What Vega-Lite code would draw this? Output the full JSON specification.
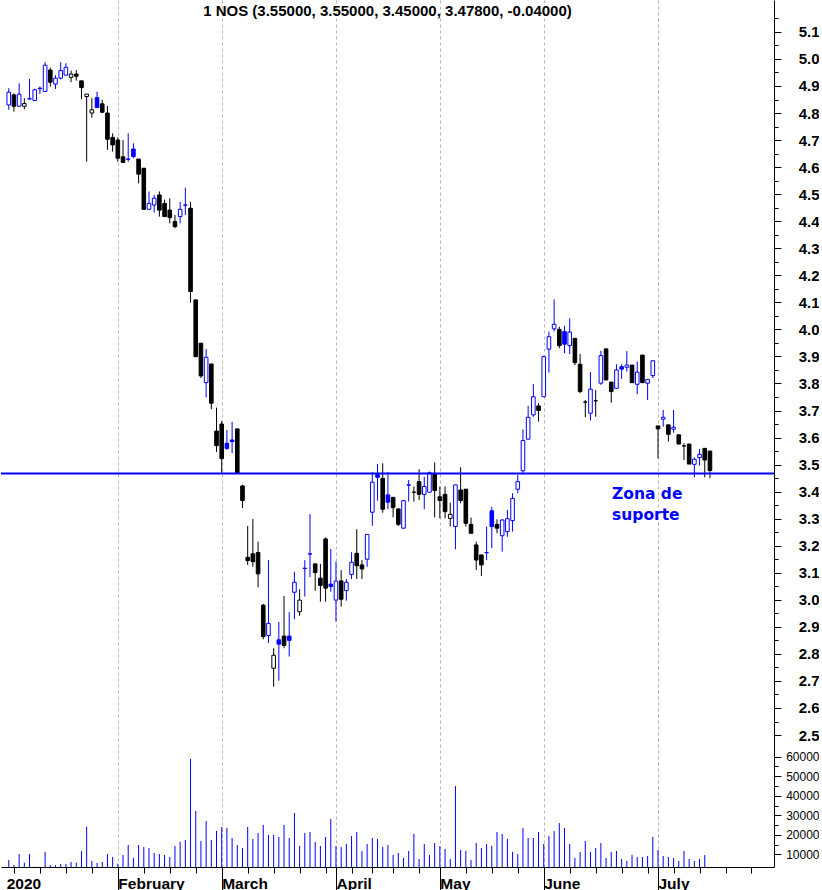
{
  "$schema": "https://vega.github.io/schema/vega-lite/v6.json",
  "description": "NOS daily candlesticks Jan-Jul 2020 with volume and support zone",
  "width": 773,
  "height": 867,
  "padding": 0,
  "background": "white",
  "config": {"view": {"stroke": null}},
  "title": {
    "text": "1 NOS (3.55000, 3.55000, 3.45000, 3.47800, -0.04000)",
    "font": "Liberation Sans",
    "fontSize": 15,
    "fontWeight": "bold",
    "color": "#000000",
    "anchor": "middle",
    "frame": "group",
    "baseline": "top",
    "offset": -19
  },
  "data": {
    "values": [
      {"t":0,"o":4.83,"h":4.892,"l":4.812,"c":4.877,"v":7100},
      {"t":1,"o":4.867,"h":4.873,"l":4.805,"c":4.825,"v":4500},
      {"t":2,"o":4.825,"h":4.91,"l":4.824,"c":4.87,"v":10160},
      {"t":3,"o":4.825,"h":4.855,"l":4.814,"c":4.835,"v":5700},
      {"t":4,"o":4.852,"h":4.926,"l":4.85,"c":4.853,"v":10160},
      {"t":5,"o":4.846,"h":4.89,"l":4.846,"c":4.886,"v":3600},
      {"t":6,"o":4.89,"h":4.898,"l":4.87,"c":4.892,"v":3600},
      {"t":7,"o":4.88,"h":4.988,"l":4.879,"c":4.977,"v":11200},
      {"t":8,"o":4.959,"h":4.968,"l":4.898,"c":4.914,"v":4500},
      {"t":9,"o":4.907,"h":4.94,"l":4.889,"c":4.929,"v":4500},
      {"t":10,"o":4.929,"h":4.988,"l":4.924,"c":4.957,"v":5000},
      {"t":11,"o":4.94,"h":4.984,"l":4.94,"c":4.969,"v":5000},
      {"t":12,"o":4.932,"h":4.957,"l":4.914,"c":4.944,"v":6060},
      {"t":13,"o":4.944,"h":4.959,"l":4.92,"c":4.936,"v":5700},
      {"t":14,"o":4.919,"h":4.919,"l":4.851,"c":4.894,"v":11700},
      {"t":15,"o":4.861,"h":4.87,"l":4.62,"c":4.87,"v":24200},
      {"t":16,"o":4.8,"h":4.855,"l":4.783,"c":4.812,"v":6600},
      {"t":17,"o":4.857,"h":4.879,"l":4.82,"c":4.82,"v":5550},
      {"t":18,"o":4.834,"h":4.849,"l":4.8,"c":4.803,"v":6060},
      {"t":19,"o":4.8,"h":4.826,"l":4.664,"c":4.703,"v":10160},
      {"t":20,"o":4.71,"h":4.725,"l":4.657,"c":4.682,"v":8600},
      {"t":21,"o":4.7,"h":4.71,"l":4.62,"c":4.633,"v":5200},
      {"t":22,"o":4.638,"h":4.7,"l":4.617,"c":4.617,"v":9650},
      {"t":23,"o":4.629,"h":4.725,"l":4.62,"c":4.63,"v":14770},
      {"t":24,"o":4.667,"h":4.688,"l":4.633,"c":4.639,"v":8100},
      {"t":25,"o":4.63,"h":4.63,"l":4.54,"c":4.574,"v":14770},
      {"t":26,"o":4.596,"h":4.596,"l":4.444,"c":4.444,"v":13750},
      {"t":27,"o":4.444,"h":4.51,"l":4.444,"c":4.466,"v":13240},
      {"t":28,"o":4.46,"h":4.497,"l":4.432,"c":4.485,"v":10670},
      {"t":29,"o":4.497,"h":4.51,"l":4.417,"c":4.441,"v":10160},
      {"t":30,"o":4.466,"h":4.48,"l":4.417,"c":4.417,"v":9650},
      {"t":31,"o":4.441,"h":4.485,"l":4.392,"c":4.413,"v":8600},
      {"t":32,"o":4.399,"h":4.423,"l":4.374,"c":4.38,"v":14260},
      {"t":33,"o":4.417,"h":4.472,"l":4.392,"c":4.444,"v":16300},
      {"t":34,"o":4.459,"h":4.524,"l":4.423,"c":4.46,"v":17340},
      {"t":35,"o":4.448,"h":4.472,"l":4.099,"c":4.14,"v":58840},
      {"t":36,"o":4.109,"h":4.11,"l":3.899,"c":3.899,"v":32200},
      {"t":37,"o":3.949,"h":3.949,"l":3.82,"c":3.828,"v":16820},
      {"t":38,"o":3.803,"h":3.927,"l":3.748,"c":3.897,"v":27070},
      {"t":39,"o":3.872,"h":3.872,"l":3.705,"c":3.727,"v":17340},
      {"t":40,"o":3.624,"h":3.711,"l":3.547,"c":3.57,"v":21950},
      {"t":41,"o":3.65,"h":3.661,"l":3.468,"c":3.522,"v":24000},
      {"t":42,"o":3.579,"h":3.628,"l":3.554,"c":3.56,"v":23480},
      {"t":43,"o":3.591,"h":3.658,"l":3.542,"c":3.585,"v":18360},
      {"t":44,"o":3.632,"h":3.632,"l":3.468,"c":3.468,"v":14770},
      {"t":45,"o":3.421,"h":3.425,"l":3.339,"c":3.367,"v":13240},
      {"t":46,"o":3.157,"h":3.273,"l":3.129,"c":3.145,"v":24000},
      {"t":47,"o":3.17,"h":3.299,"l":3.122,"c":3.141,"v":17850},
      {"t":48,"o":3.175,"h":3.215,"l":3.046,"c":3.096,"v":20920},
      {"t":49,"o":2.98,"h":2.985,"l":2.854,"c":2.864,"v":25020},
      {"t":50,"o":2.868,"h":3.147,"l":2.84,"c":2.913,"v":19900},
      {"t":51,"o":2.747,"h":2.821,"l":2.679,"c":2.795,"v":19900},
      {"t":52,"o":2.852,"h":2.919,"l":2.701,"c":2.836,"v":18870},
      {"t":53,"o":2.866,"h":3.014,"l":2.821,"c":2.831,"v":25020},
      {"t":54,"o":2.866,"h":2.954,"l":2.79,"c":2.85,"v":18360},
      {"t":55,"o":3.028,"h":3.104,"l":2.928,"c":3.065,"v":31170},
      {"t":56,"o":2.956,"h":3.039,"l":2.941,"c":2.999,"v":14260},
      {"t":57,"o":3.116,"h":3.147,"l":3.012,"c":3.117,"v":20920},
      {"t":58,"o":3.169,"h":3.317,"l":3.084,"c":3.17,"v":21430},
      {"t":59,"o":3.133,"h":3.133,"l":3.034,"c":3.101,"v":16300},
      {"t":60,"o":3.08,"h":3.133,"l":2.993,"c":3.053,"v":14260},
      {"t":61,"o":3.225,"h":3.231,"l":2.993,"c":3.043,"v":18870},
      {"t":62,"o":3.058,"h":3.188,"l":3.03,"c":3.049,"v":28100},
      {"t":63,"o":2.999,"h":3.141,"l":2.919,"c":3.069,"v":14260},
      {"t":64,"o":3.07,"h":3.11,"l":2.975,"c":3.002,"v":13750},
      {"t":65,"o":3.034,"h":3.077,"l":2.997,"c":3.065,"v":15290},
      {"t":66,"o":3.094,"h":3.176,"l":3.077,"c":3.139,"v":19390},
      {"t":67,"o":3.172,"h":3.261,"l":3.077,"c":3.126,"v":21430},
      {"t":68,"o":3.129,"h":3.147,"l":3.077,"c":3.114,"v":11700},
      {"t":69,"o":3.15,"h":3.242,"l":3.122,"c":3.242,"v":15290},
      {"t":70,"o":3.324,"h":3.472,"l":3.274,"c":3.435,"v":18360},
      {"t":71,"o":3.464,"h":3.502,"l":3.367,"c":3.453,"v":17850},
      {"t":72,"o":3.449,"h":3.505,"l":3.322,"c":3.335,"v":13750},
      {"t":73,"o":3.388,"h":3.472,"l":3.335,"c":3.361,"v":14770},
      {"t":74,"o":3.379,"h":3.379,"l":3.305,"c":3.341,"v":9650},
      {"t":75,"o":3.336,"h":3.336,"l":3.273,"c":3.279,"v":10670},
      {"t":76,"o":3.265,"h":3.367,"l":3.262,"c":3.367,"v":8100},
      {"t":77,"o":3.424,"h":3.443,"l":3.363,"c":3.425,"v":11700},
      {"t":78,"o":3.398,"h":3.419,"l":3.363,"c":3.398,"v":20410},
      {"t":79,"o":3.437,"h":3.483,"l":3.369,"c":3.39,"v":7600},
      {"t":80,"o":3.39,"h":3.455,"l":3.335,"c":3.419,"v":15290},
      {"t":81,"o":3.398,"h":3.474,"l":3.398,"c":3.47,"v":9650},
      {"t":82,"o":3.464,"h":3.508,"l":3.305,"c":3.404,"v":15800},
      {"t":83,"o":3.381,"h":3.419,"l":3.301,"c":3.367,"v":14260},
      {"t":84,"o":3.39,"h":3.419,"l":3.301,"c":3.326,"v":12720},
      {"t":85,"o":3.301,"h":3.359,"l":3.271,"c":3.316,"v":7600},
      {"t":86,"o":3.271,"h":3.425,"l":3.187,"c":3.425,"v":45000},
      {"t":87,"o":3.406,"h":3.49,"l":3.357,"c":3.367,"v":12210},
      {"t":88,"o":3.409,"h":3.409,"l":3.271,"c":3.283,"v":11700},
      {"t":89,"o":3.279,"h":3.304,"l":3.246,"c":3.246,"v":7100},
      {"t":90,"o":3.203,"h":3.215,"l":3.11,"c":3.147,"v":15800},
      {"t":91,"o":3.166,"h":3.166,"l":3.088,"c":3.129,"v":13240},
      {"t":92,"o":3.174,"h":3.271,"l":3.147,"c":3.175,"v":15290},
      {"t":93,"o":3.329,"h":3.344,"l":3.191,"c":3.271,"v":14260},
      {"t":94,"o":3.279,"h":3.298,"l":3.246,"c":3.265,"v":21430},
      {"t":95,"o":3.237,"h":3.298,"l":3.178,"c":3.295,"v":20410},
      {"t":96,"o":3.252,"h":3.332,"l":3.233,"c":3.3,"v":17850},
      {"t":97,"o":3.293,"h":3.394,"l":3.252,"c":3.375,"v":11200},
      {"t":98,"o":3.409,"h":3.462,"l":3.394,"c":3.437,"v":10160},
      {"t":99,"o":3.477,"h":3.63,"l":3.47,"c":3.589,"v":23480},
      {"t":100,"o":3.594,"h":3.717,"l":3.594,"c":3.675,"v":18360},
      {"t":101,"o":3.684,"h":3.798,"l":3.677,"c":3.751,"v":18360},
      {"t":102,"o":3.717,"h":3.727,"l":3.659,"c":3.7,"v":21430},
      {"t":103,"o":3.751,"h":3.903,"l":3.751,"c":3.899,"v":15290},
      {"t":104,"o":3.927,"h":3.992,"l":3.84,"c":3.973,"v":19390},
      {"t":105,"o":4.002,"h":4.111,"l":3.992,"c":4.019,"v":21950},
      {"t":106,"o":4.0,"h":4.01,"l":3.93,"c":3.94,"v":26050},
      {"t":107,"o":3.992,"h":4.013,"l":3.912,"c":3.945,"v":23480},
      {"t":108,"o":3.94,"h":4.041,"l":3.909,"c":3.99,"v":15290},
      {"t":109,"o":3.967,"h":3.967,"l":3.868,"c":3.877,"v":8100},
      {"t":110,"o":3.871,"h":3.909,"l":3.764,"c":3.77,"v":11200},
      {"t":111,"o":3.731,"h":3.739,"l":3.675,"c":3.731,"v":16820},
      {"t":112,"o":3.69,"h":3.842,"l":3.663,"c":3.779,"v":11200},
      {"t":113,"o":3.736,"h":3.776,"l":3.677,"c":3.736,"v":13240},
      {"t":114,"o":3.801,"h":3.921,"l":3.795,"c":3.903,"v":15800},
      {"t":115,"o":3.928,"h":3.928,"l":3.813,"c":3.813,"v":8100},
      {"t":116,"o":3.805,"h":3.805,"l":3.729,"c":3.77,"v":11200},
      {"t":117,"o":3.782,"h":3.871,"l":3.782,"c":3.85,"v":11700},
      {"t":118,"o":3.862,"h":3.871,"l":3.817,"c":3.853,"v":7600},
      {"t":119,"o":3.86,"h":3.92,"l":3.844,"c":3.868,"v":6600},
      {"t":120,"o":3.868,"h":3.868,"l":3.803,"c":3.803,"v":9650},
      {"t":121,"o":3.797,"h":3.881,"l":3.76,"c":3.842,"v":8600},
      {"t":122,"o":3.905,"h":3.905,"l":3.803,"c":3.803,"v":8600},
      {"t":123,"o":3.801,"h":3.815,"l":3.739,"c":3.815,"v":9140},
      {"t":124,"o":3.829,"h":3.884,"l":3.82,"c":3.884,"v":18870},
      {"t":125,"o":3.643,"h":3.643,"l":3.523,"c":3.632,"v":12210},
      {"t":126,"o":3.668,"h":3.702,"l":3.64,"c":3.675,"v":9140},
      {"t":127,"o":3.647,"h":3.647,"l":3.585,"c":3.612,"v":8600},
      {"t":128,"o":3.631,"h":3.702,"l":3.618,"c":3.638,"v":8100},
      {"t":129,"o":3.61,"h":3.612,"l":3.576,"c":3.576,"v":6600},
      {"t":130,"o":3.569,"h":3.579,"l":3.517,"c":3.569,"v":11700},
      {"t":131,"o":3.576,"h":3.576,"l":3.502,"c":3.502,"v":7600},
      {"t":132,"o":3.501,"h":3.526,"l":3.453,"c":3.52,"v":6600},
      {"t":133,"o":3.526,"h":3.558,"l":3.496,"c":3.538,"v":7600},
      {"t":134,"o":3.56,"h":3.56,"l":3.453,"c":3.517,"v":9650},
      {"t":135,"o":3.55,"h":3.55,"l":3.45,"c":3.478,"v":null}
    ]
  },
  "transform": [
    {"window": [{"op": "lag", "field": "c", "as": "pc"}], "sort": [{"field": "t"}]}
  ],
  "layer": [
    {
      "transform": [{"filter": "datum.v != null"}],
      "layer": [
        {
          "mark": {"type": "rule", "color": "#0000ff", "strokeWidth": 1},
          "encoding": {
            "x": {
              "field": "t", "type": "quantitative",
              "scale": {"domain": [-0.53, 146.37], "nice": false, "zero": false},
              "axis": null
            },
            "y": {
              "field": "v", "type": "quantitative",
              "scale": {"domain": [3500, 447664], "nice": false, "zero": false},
              "axis": {
                "orient": "right", "title": null,
                "values": [10000, 20000, 30000, 40000, 50000, 60000],
                "format": "d", "grid": false, "domain": false,
                "tickSize": 7, "tickColor": "#000000",
                "labelAlign": "right", "labelBaseline": "middle", "labelPadding": 38,
                "labelFont": "Liberation Sans", "labelFontSize": 12, "labelColor": "#000000",
                "labelOverlap": false, "labelFlush": false, "labelBound": false
              }
            },
            "y2": {"datum": 3500}
          }
        },
        {
          "mark": {"type": "rule", "opacity": 0},
          "encoding": {
            "x": {"field": "t", "type": "quantitative", "axis": null},
            "y": {
              "field": "v", "type": "quantitative",
              "axis": {
                "orient": "right", "title": null,
                "values": [15000, 25000, 35000, 45000, 55000],
                "labels": false, "grid": false, "domain": false,
                "tickSize": 4, "tickColor": "#000000"
              }
            },
            "y2": {"datum": 3500}
          }
        }
      ],
      "resolve": {"axis": {"y": "independent"}}
    },
    {
      "layer": [
        {
          "mark": {"type": "rule", "strokeWidth": 1},
          "encoding": {
            "x": {
              "field": "t", "type": "quantitative",
              "axis": {
                "orient": "bottom", "title": null,
                "values": [1, 6, 11, 16, 21, 26, 31, 36, 41, 46, 51, 56, 61, 66, 70, 74, 79, 83, 88, 93, 98, 103, 108, 113, 118, 123, 128, 133, 138, 143],
                "labels": false, "grid": false,
                "domain": true, "domainColor": "#000000", "domainWidth": 1,
                "tickSize": 6, "tickColor": "#000000", "tickWidth": 1
              }
            },
            "y": {
              "field": "l", "type": "quantitative",
              "scale": {"domain": [2.012, 5.218], "nice": false, "zero": false},
              "axis": {
                "orient": "right", "title": null,
                "values": [2.5, 2.6, 2.7, 2.8, 2.9, 3.0, 3.1, 3.2, 3.3, 3.4, 3.5, 3.6, 3.7, 3.8, 3.9, 4.0, 4.1, 4.2, 4.3, 4.4, 4.5, 4.6, 4.7, 4.8, 4.9, 5.0, 5.1],
                "format": ".1f", "grid": false,
                "domain": true, "domainColor": "#000000", "domainWidth": 1,
                "tickSize": 7, "tickColor": "#000000",
                "labelAlign": "right", "labelBaseline": "middle", "labelPadding": 38,
                "labelFont": "Liberation Sans", "labelFontSize": 15, "labelFontWeight": "bold", "labelColor": "#000000",
                "labelOverlap": false, "labelFlush": false, "labelBound": false
              }
            },
            "y2": {"field": "h"},
            "stroke": {
              "condition": {"test": "datum.pc == null || datum.c >= datum.pc", "value": "#0000ff"},
              "value": "#000000"
            }
          }
        },
        {
          "mark": {"type": "bar", "size": 3.6, "strokeWidth": 1, "opacity": 1},
          "encoding": {
            "x": {
              "field": "t", "type": "quantitative",
              "axis": {
                "orient": "bottom", "title": null,
                "values": [-0.5, 21, 41, 63, 83, 103, 125],
                "labelExpr": "datum.value < 0 ? '2020' : datum.value == 21 ? 'February' : datum.value == 41 ? 'March' : datum.value == 63 ? 'April' : datum.value == 83 ? 'May' : datum.value == 103 ? 'June' : 'July'",
                "domain": false,
                "grid": true, "gridColor": "#b4b4b4", "gridDash": [3, 3], "gridWidth": 1,
                "gridOpacity": {"condition": {"test": "datum.value < 0", "value": 0}, "value": 1},
                "tickSize": 23, "tickColor": "#000000", "tickWidth": 1,
                "tickOpacity": {"condition": {"test": "datum.value < 0", "value": 0}, "value": 1},
                "labelAlign": "left", "labelBaseline": "top", "labelPadding": -14, "labelDx": 1.5,
                "labelFont": "Liberation Sans", "labelFontSize": 15.5, "labelFontWeight": "bold", "labelColor": "#000000",
                "labelOverlap": false, "labelFlush": false, "labelBound": false
              }
            },
            "y": {
              "field": "o", "type": "quantitative",
              "axis": {
                "orient": "right", "title": null,
                "values": [2.55, 2.65, 2.75, 2.85, 2.95, 3.05, 3.15, 3.25, 3.35, 3.45, 3.55, 3.65, 3.75, 3.85, 3.95, 4.05, 4.15, 4.25, 4.35, 4.45, 4.55, 4.65, 4.75, 4.85, 4.95, 5.05, 5.15],
                "labels": false, "grid": false, "domain": false,
                "tickSize": 4, "tickColor": "#000000"
              }
            },
            "y2": {"field": "c"},
            "stroke": {
              "condition": {"test": "datum.pc == null || datum.c >= datum.pc", "value": "#0000ff"},
              "value": "#000000"
            },
            "fill": {
              "condition": [
                {"test": "datum.c >= datum.o", "value": "#ffffff"},
                {"test": "datum.pc == null || datum.c >= datum.pc", "value": "#0000ff"}
              ],
              "value": "#000000"
            }
          }
        },
        {
          "data": {"values": [{"level": 3.467}]},
          "mark": {"type": "rule", "color": "#0000ff", "strokeWidth": 2},
          "encoding": {
            "y": {"field": "level", "type": "quantitative", "axis": null}
          }
        },
        {
          "data": {"values": [{"t": 116.15, "p": 3.373}]},
          "mark": {
            "type": "text",
            "text": ["Zona de", "suporte"],
            "font": "DejaVu Sans",
            "fontSize": 15.5,
            "fontWeight": "bold",
            "color": "#0000ff",
            "align": "left",
            "baseline": "alphabetic",
            "lineHeight": 21
          },
          "encoding": {
            "x": {"field": "t", "type": "quantitative", "axis": null},
            "y": {"field": "p", "type": "quantitative", "axis": null}
          }
        }
      ],
      "resolve": {"axis": {"x": "independent", "y": "independent"}}
    }
  ],
  "resolve": {"scale": {"y": "independent"}, "axis": {"x": "independent", "y": "independent"}}
}
